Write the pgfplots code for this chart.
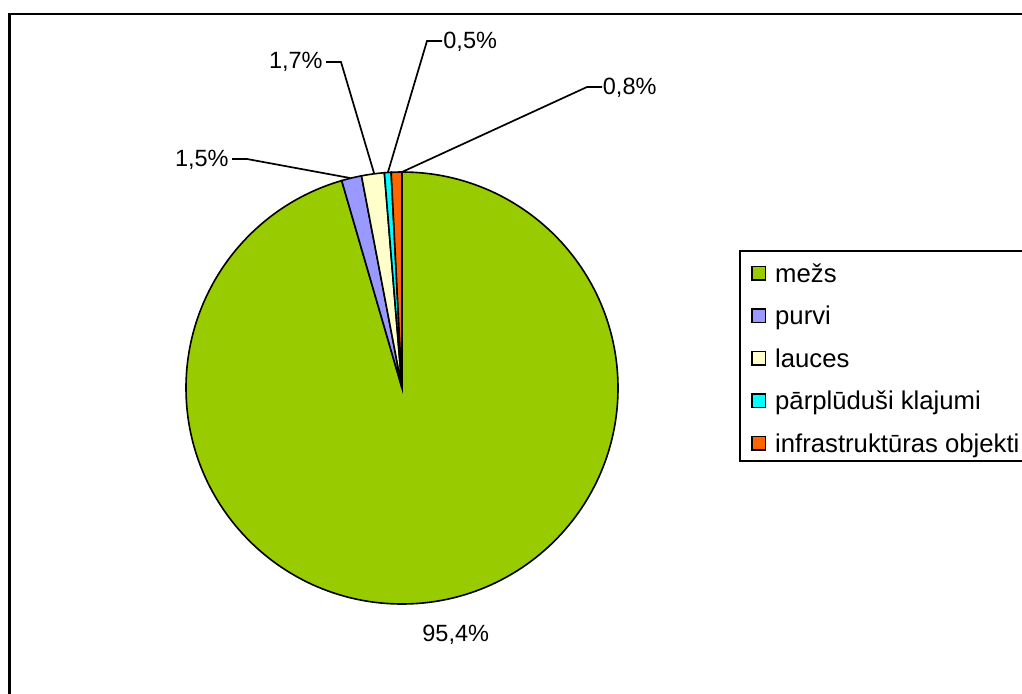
\documentclass[border=0pt]{standalone}
\usepackage{fontspec}
\setmainfont{Liberation Sans}
\usepackage{pgfplots}
\pgfplotsset{compat=1.18}

\definecolor{mezs}{HTML}{99CC00}
\definecolor{purvi}{HTML}{9999FF}
\definecolor{lauces}{HTML}{FFFFCC}
\definecolor{parpl}{HTML}{00FFFF}
\definecolor{infra}{HTML}{FF6600}

% shares in percent, clockwise from 12 o'clock
\def\vA{95.4}
\def\vB{1.5}
\def\vC{1.7}
\def\vD{0.5}
\def\vE{0.8}
\pgfmathsetmacro\total{\vA+\vB+\vC+\vD+\vE}
\pgfmathsetmacro\aA{90}
\pgfmathsetmacro\aB{\aA-360*(\vA/\total)}
\pgfmathsetmacro\aC{\aB-360*(\vB/\total)}
\pgfmathsetmacro\aD{\aC-360*(\vC/\total)}
\pgfmathsetmacro\aE{\aD-360*(\vD/\total)}
\pgfmathsetmacro\aF{\aE-360*(\vE/\total)}

\newcommand{\lab}{\fontsize{11.75}{14}\selectfont}
\newcommand{\slice}[3]{%
  \filldraw[fill=#1, draw=black, line width=0.8pt]
    (axis cs:402,305) -- ++(#2:108pt) arc[start angle=#2, end angle=#3, radius=108pt] -- cycle;}

\begin{document}
\begin{tikzpicture}
\useasboundingbox (0,0) rectangle (511pt,346.5pt);
\clip (0,0) rectangle (511pt,346.5pt);
\begin{axis}[
    at={(0,0)}, anchor=south west,
    scale only axis, width=511pt, height=346.5pt,
    xmin=0, xmax=1022, ymin=0, ymax=693,
    hide axis, clip=false,
    legend cell align=left,
    legend image code/.code={\draw[#1] (0pt,-4.5pt) rectangle (6.8pt,2.3pt);},
    legend style={
        at={(axis cs:739,443)}, anchor=north west,
        draw=black, line width=1pt,
        font=\fontsize{12.85}{15}\selectfont,
        inner xsep=5.5pt, inner ysep=2pt,
        row sep=5.25pt,
        nodes={inner sep=0pt, text height=13.5pt, text depth=2.5pt},
        /tikz/every odd column/.style={column sep=4.5pt},
    },
]
\slice{mezs}{\aA}{\aB}
\slice{purvi}{\aB}{\aC}
\slice{lauces}{\aC}{\aD}
\slice{parpl}{\aD}{\aE}
\slice{infra}{\aE}{\aF}

\addlegendimage{fill=mezs, draw=black, line width=0.8pt}
\addlegendentry{mežs}
\addlegendimage{fill=purvi, draw=black, line width=0.8pt}
\addlegendentry{purvi}
\addlegendimage{fill=lauces, draw=black, line width=0.8pt}
\addlegendentry{lauces}
\addlegendimage{fill=parpl, draw=black, line width=0.8pt}
\addlegendentry{pārplūduši klajumi}
\addlegendimage{fill=infra, draw=black, line width=0.8pt}
\addlegendentry{infrastruktūras objekti}

% leader lines
\draw[line width=0.85pt] (axis cs:232,534) -- (axis cs:247,534) -- (axis cs:350,515);
\draw[line width=0.85pt] (axis cs:326,631) -- (axis cs:341,631) -- (axis cs:374,520);
\draw[line width=0.85pt] (axis cs:442,652) -- (axis cs:427,652) -- (axis cs:388,521);
\draw[line width=0.85pt] (axis cs:602,606) -- (axis cs:587,606) -- (axis cs:402,521);

% data labels
\node[anchor=base east, inner sep=0pt, font=\lab] at (axis cs:229,527) {1,5\%};
\node[anchor=base east, inner sep=0pt, font=\lab] at (axis cs:323,625) {1,7\%};
\node[anchor=base west, inner sep=0pt, font=\lab] at (axis cs:443,644.7) {0,5\%};
\node[anchor=base west, inner sep=0pt, font=\lab] at (axis cs:602.5,599) {0,8\%};
\node[anchor=base west, inner sep=0pt, font=\lab] at (axis cs:422,51.3) {95,4\%};

% chart area frame (only the left and top edges fall inside the picture)
\draw[line width=1.35pt] (axis cs:9.7,-20) -- (axis cs:9.7,679) -- (axis cs:1050,679);
\end{axis}
\end{tikzpicture}
\end{document}
